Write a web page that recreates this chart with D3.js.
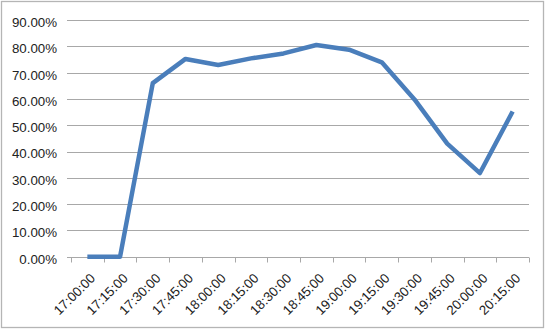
<!DOCTYPE html>
<html><head><meta charset="utf-8">
<script src="https://cdn.jsdelivr.net/npm/d3@7"></script>
<style>body{margin:0;background:#fff}svg{display:block}</style>
</head><body>
<script>
const categories = ["17:00:00","17:15:00","17:30:00","17:45:00","18:00:00","18:15:00","18:30:00","18:45:00","19:00:00","19:15:00","19:30:00","19:45:00","20:00:00","20:15:00"];
const values = [0.0, 0.0, 0.66, 0.752, 0.729, 0.754, 0.773, 0.805, 0.787, 0.739, 0.598, 0.43, 0.318, 0.552];
const yTicks = [0, 0.1, 0.2, 0.3, 0.4, 0.5, 0.6, 0.7, 0.8, 0.9];

(function () {
const W = 550, H = 330;
const svg = d3.select("body").append("svg").attr("width", W).attr("height", H);
svg.append("rect").attr("x", 1.5).attr("y", 1.5).attr("width", 542).attr("height", 326)
  .attr("fill", "#fff").attr("stroke", "#b5b5b5").attr("stroke-width", 1.3);

const pLeft = 71, pRight = 529, pTop = 20, pBottom = 256.7;
const x = d3.scaleBand().domain(categories).range([pLeft, pRight]);
const y = d3.scaleLinear().domain([0, 0.9]).range([pBottom, pTop]);

const fontFam = "'Liberation Sans', Arial, sans-serif";

// gridlines
svg.append("g").selectAll("line").data(yTicks).join("line")
  .attr("x1", pLeft - 4).attr("x2", pRight)
  .attr("y1", d => Math.round(y(d)) + 0.5).attr("y2", d => Math.round(y(d)) + 0.5)
  .attr("stroke", "#a8a8a8").attr("stroke-width", 1);

// y labels
svg.append("g").selectAll("text").data(yTicks).join("text")
  .attr("x", 57).attr("y", d => y(d)).attr("dy", "0.52em")
  .attr("text-anchor", "end").attr("font-family", fontFam).attr("font-size", 13.3)
  .attr("fill", "#222").text(d => d3.format(".2%")(d));

// x axis
const xAxis = d3.axisBottom(x).tickSizeOuter(0).tickSize(4);
const gx = svg.append("g").attr("transform", `translate(0,${Math.round(pBottom) + 0.5})`);
gx.call(xAxis);
gx.select(".domain").remove();
gx.selectAll(".tick line").remove();
gx.append("line").attr("x1", pLeft).attr("x2", pRight).attr("y1", 0).attr("y2", 0).attr("stroke", "#a8a8a8");
const tickPos = categories.map(c => x(c)).concat([pRight]);
gx.append("g").selectAll("line").data(tickPos).join("line")
  .attr("x1", d => Math.round(d) + 0.5).attr("x2", d => Math.round(d) + 0.5)
  .attr("y1", 0).attr("y2", 5).attr("stroke", "#a8a8a8");
gx.selectAll(".tick text")
  .attr("font-family", fontFam).attr("font-size", 13.3).attr("fill", "#222")
  .attr("text-anchor", "end")
  .attr("transform", "translate(2,15) rotate(-45)")
  .attr("dx", 0).attr("dy", "0.7em").attr("y", 0).attr("x", 0);

// line
const line = d3.line().x((d, i) => x(categories[i]) + x.bandwidth() / 2).y(d => y(d));
svg.append("path").datum(values).attr("d", line)
  .attr("fill", "none").attr("stroke", "#4a7ebb").attr("stroke-width", 4.5)
  .attr("stroke-linejoin", "round").attr("stroke-linecap", "butt");
})();
</script>
</body></html>
